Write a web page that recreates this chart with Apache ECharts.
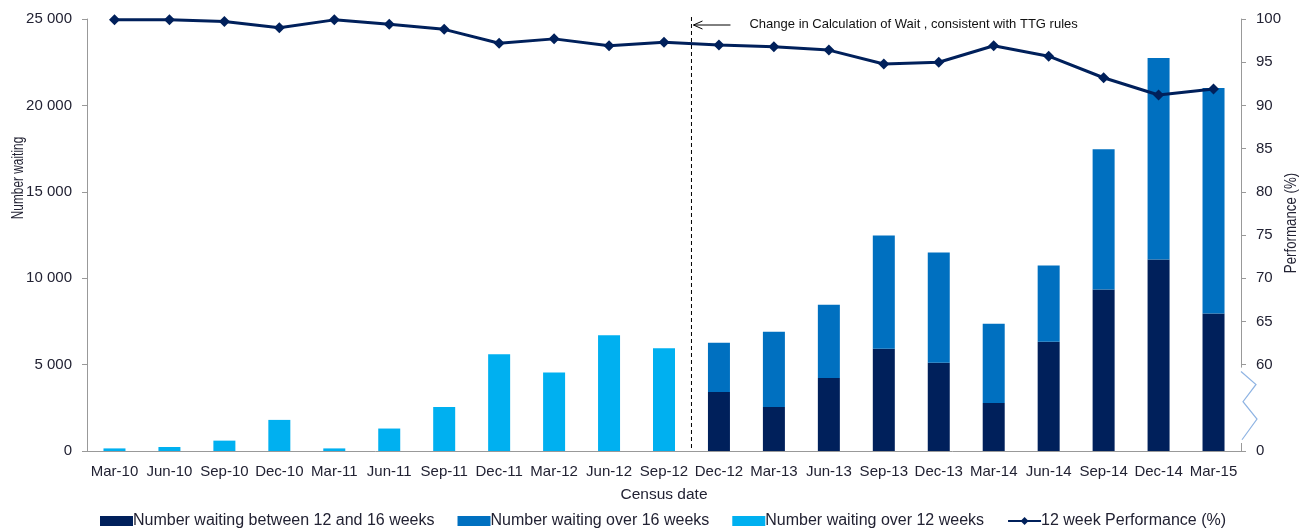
<!DOCTYPE html>
<html><head><meta charset="utf-8">
<script src="https://cdn.jsdelivr.net/npm/echarts@6/dist/echarts.min.js"></script>
<style>html,body{margin:0;padding:0;background:#fff}#c{width:1301px;height:529px}</style>
</head><body><div id="c"></div>
<script>
var categories = ['Mar-10','Jun-10','Sep-10','Dec-10','Mar-11','Jun-11','Sep-11','Dec-11','Mar-12','Jun-12','Sep-12','Dec-12','Mar-13','Jun-13','Sep-13','Dec-13','Mar-14','Jun-14','Sep-14','Dec-14','Mar-15'];
var between12and16 = ['-','-','-','-','-','-','-','-','-','-','-',3420,2550,4230,5920,5100,2780,6320,9340,11080,7950];
var over16 = ['-','-','-','-','-','-','-','-','-','-','-',2850,4350,4240,6550,6390,4590,4410,8120,11660,13050];
var over12 = [150,230,600,1800,150,1300,2550,5600,4550,6700,5950,'-','-','-','-','-','-','-','-','-','-'];
var performance = [99.9,99.9,99.7,99.0,99.9,99.4,98.8,97.2,97.7,96.9,97.3,97.0,96.8,96.4,94.8,95.0,96.9,95.7,93.2,91.2,91.9];
var annotation = 'Change in Calculation of Wait , consistent with TTG rules';
var leftAxisName = 'Number waiting';
var rightAxisName = 'Performance (%)';

var FONT = '"Liberation Sans", Arial, sans-serif';
var TXT = '#222233';
var chart = echarts.init(document.getElementById('c'));
var option = {
  animation: false,
  textStyle: {fontFamily: FONT},
  grid: {left: 87, right: 60, top: 19, bottom: 78, containLabel: false, outerBoundsMode: 'none'},
  legend: {
    bottom: 0, left: 100, padding: 0, itemWidth: 33, itemHeight: 10, itemGap: 23,
    textStyle: {fontFamily: FONT, fontSize: 16, color: TXT, padding: [0,0,0,-5]},
    data: [
      {name: 'Number waiting between 12 and 16 weeks', icon: 'rect'},
      {name: 'Number waiting over 16 weeks', icon: 'rect'},
      {name: 'Number waiting over 12 weeks', icon: 'rect'},
      {name: '12 week Performance (%)'}
    ]
  },
  xAxis: {
    type: 'category', data: categories, boundaryGap: true,
    name: 'Census date', nameLocation: 'middle', nameGap: 36,
    nameTextStyle: {fontSize: 15.5, color: TXT, fontFamily: FONT},
    axisLine: {lineStyle: {color: '#999'}},
    axisTick: {alignWithLabel: false, length: 6, lineStyle: {color: '#999'}},
    axisLabel: {fontSize: 15, color: TXT, margin: 13, interval: 0, fontFamily: FONT}
  },
  yAxis: [{
    type: 'value', min: 0, max: 25000, interval: 5000,
    axisLine: {show: true, lineStyle: {color: '#999'}},
    axisTick: {show: true, length: 5, lineStyle: {color: '#999'}},
    splitLine: {show: false},
    axisLabel: {fontSize: 15, color: TXT, margin: 15, fontFamily: FONT,
      formatter: function (v) { return v === 0 ? '0' : String(v).replace(/\B(?=(\d{3})+(?!\d))/g, ' '); }}
  }, {
    type: 'value', min: 50, max: 100, interval: 5, position: 'right',
    axisLine: {show: true, lineStyle: {color: '#999'}},
    axisTick: {show: true, length: 5, lineStyle: {color: '#999'}},
    splitLine: {show: false},
    axisLabel: {fontSize: 15, color: TXT, margin: 15, fontFamily: FONT,
      formatter: function (v) { return v === 50 ? '0' : (v === 55 ? '' : String(v)); }}
  }],
  series: [
    {name: 'Number waiting between 12 and 16 weeks', type: 'bar', stack: 'a', data: between12and16,
     barWidth: 22, itemStyle: {color: '#00205B'}},
    {name: 'Number waiting over 16 weeks', type: 'bar', stack: 'a', data: over16,
     barWidth: 22, itemStyle: {color: '#0070C0'}},
    {name: 'Number waiting over 12 weeks', type: 'bar', stack: 'a', data: over12,
     barWidth: 22, itemStyle: {color: '#00B0F0'}},
    {name: '12 week Performance (%)', type: 'line', yAxisIndex: 1, data: performance,
     symbol: 'diamond', symbolSize: 11, lineStyle: {width: 3, color: '#00205B'},
     itemStyle: {color: '#00205B'}, z: 5}
  ]
};
chart.setOption(option);

// decorations positioned through the axes
var xL = chart.convertToPixel({xAxisIndex: 0}, 10);
var xR = chart.convertToPixel({xAxisIndex: 0}, 11);
var xDiv = (xL + xR) / 2;
var yTop = chart.convertToPixel({yAxisIndex: 0}, 25000);
var yBot = chart.convertToPixel({yAxisIndex: 0}, 0);
var axisX = chart.convertToPixel({xAxisIndex: 0}, 20) + (xR - xL) / 2;
var y60 = chart.convertToPixel({yAxisIndex: 1}, 60);
var y50 = chart.convertToPixel({yAxisIndex: 1}, 50);
var span = y50 - y60;
chart.setOption({
  graphic: [
    {type: 'line', shape: {x1: xDiv, y1: yTop - 2, x2: xDiv, y2: yBot}, style: {stroke: '#000', lineWidth: 1, lineDash: [4, 3]}, z: 10},
    {type: 'line', shape: {x1: xDiv + 2, y1: yTop + 6, x2: xDiv + 39, y2: yTop + 6}, style: {stroke: '#000', lineWidth: 1}, z: 10},
    {type: 'polyline', shape: {points: [[xDiv + 11, yTop + 2], [xDiv + 2, yTop + 6], [xDiv + 11, yTop + 10]]}, style: {stroke: '#000', lineWidth: 1, fill: null}, z: 10},
    {type: 'text', x: xDiv + 58, y: yTop + 5, style: {text: annotation, fontFamily: FONT, fontSize: 13, fill: '#111', verticalAlign: 'middle'}, z: 10},
    {type: 'rect', shape: {x: axisX - 6, y: y60 + 3, width: 12, height: span - 11}, style: {fill: '#fff'}, z: 10},
    {type: 'polyline', shape: {points: [[axisX, y60 + span * 0.08], [axisX + 15, y60 + span * 0.23], [axisX + 2, y60 + span * 0.43], [axisX + 16, y60 + span * 0.63], [axisX + 1, y60 + span * 0.87]]},
     style: {stroke: '#8FB4E3', lineWidth: 1.2, fill: null}, z: 10},
    {type: 'text', x: 18, y: 178, rotation: Math.PI / 2, scaleX: 0.72,
     style: {text: leftAxisName, fontFamily: FONT, fontSize: 16.5, fill: TXT, align: 'center', verticalAlign: 'middle'}, z: 10},
    {type: 'text', x: 1292, y: 223, rotation: Math.PI / 2, scaleX: 0.83,
     style: {text: rightAxisName, fontFamily: FONT, fontSize: 16, fill: TXT, align: 'center', verticalAlign: 'middle'}, z: 10}
  ]
});
</script></body></html>
